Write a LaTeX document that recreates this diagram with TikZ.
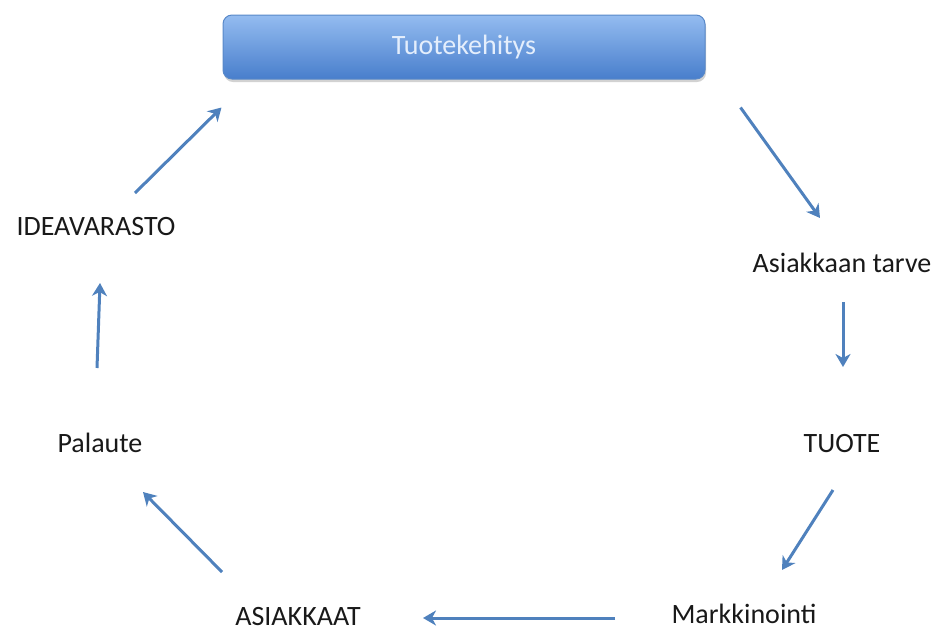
\documentclass[tikz,border=0pt]{standalone}
\usepackage{fontspec}
\setmainfont{Carlito}
\usepackage{tikz}
\usetikzlibrary{arrows.meta,shadows}

\definecolor{arrowblue}{RGB}{79,129,189}
\definecolor{boxtop}{RGB}{148,188,240}
\definecolor{boxbottom}{RGB}{72,126,204}
\definecolor{boxline}{RGB}{88,136,200}
\definecolor{boxtext}{RGB}{228,238,252}
\definecolor{labeltext}{RGB}{25,25,25}

\begin{document}
\begin{tikzpicture}[x=1pt,y=-1pt,
        label/.style={anchor=base,inner sep=0pt,text=labeltext,font=\fontsize{28}{34}\selectfont},
        topbox/.style={rounded corners=9pt,draw=boxline,line width=1pt,top color=boxtop,bottom color=boxbottom,
            minimum width=482pt,minimum height=64pt,text=boxtext,font=\fontsize{28}{34}\selectfont,
            drop shadow={shadow xshift=1pt,shadow yshift=-3pt,fill=black!35,opacity=.5}},
        arr/.style={draw=arrowblue,line width=3pt,-{Stealth[length=13pt,width=15pt,inset=4pt]}}]
    \useasboundingbox (0,0) rectangle (935,633);

    % the cycle
    \node[topbox] (tk) at (464,47) {Tuotekehitys};
    \node[label] (idea) at (96,235) {IDEAVARASTO};
    \node[label] (tarve) at (842,272) {Asiakkaan tarve};
    \node[label] (tuote) at (842,452) {TUOTE};
    \node[label] (markk) at (744,623) {Markkinointi};
    \node[label] (asiak) at (298,625) {ASIAKKAAT};
    \node[label] (pal) at (100,452) {Palaute};

    \draw[arr] ([shift={(39,-42)}]idea.base) -- ([shift={(-1,28)}]tk.south west);
    \draw[arr] ([shift={(35,28)}]tk.south east) -- ([shift={(-22,-54)}]tarve.base);
    \draw[arr] ([shift={(1,30)}]tarve.base) -- ([shift={(1,-85)}]tuote.base);
    \draw[arr] ([shift={(-9,38)}]tuote.base) -- ([shift={(38,-53)}]markk.base);
    \draw[arr] ([shift={(-129,-5)}]markk.base) -- ([shift={(125,-7)}]asiak.base);
    \draw[arr] ([shift={(-76,-53)}]asiak.base) -- ([shift={(43,40)}]pal.base);
    \draw[arr] ([shift={(-3,-84)}]pal.base) -- ([shift={(4,48)}]idea.base);
\end{tikzpicture}
\end{document}
